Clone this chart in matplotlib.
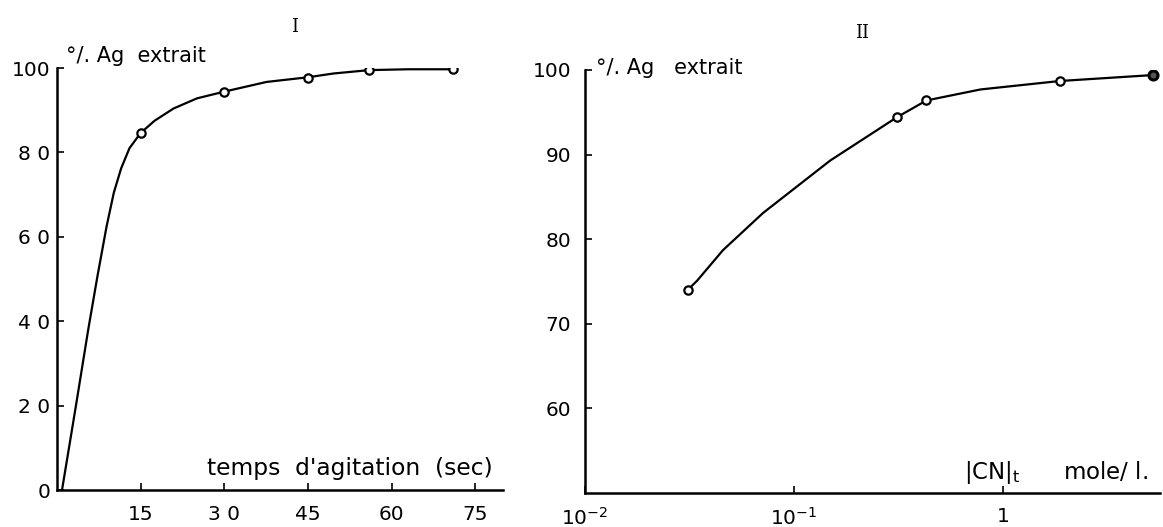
import numpy as np
import matplotlib
matplotlib.use("Agg")
import matplotlib.pyplot as plt

# ---- Panel I data ----
t_pts = [15, 30, 45, 56, 71]
ag_t_pts = [84.6, 94.4, 97.6, 99.5, 99.7]
t_curve = [0.9, 3.4, 5.6, 7.3, 8.9, 10.2, 11.5, 13.0, 15, 17.5, 20.9, 25.1, 30, 37.6, 45, 49.6, 56, 63, 71]
ag_t_curve = [0, 20, 38, 51, 62.5, 70.5, 76.2, 81.0, 84.6, 87.5, 90.4, 92.8, 94.4, 96.7, 97.8, 98.7, 99.5, 99.7, 99.7]
t_ticks = [15, 30, 45, 60, 75]
t_ticklabels = ["15", "3 0", "45", "60", "75"]
y1_ticks = [0, 20, 40, 60, 80, 100]
y1_ticklabels = ["0", "2 0", "4 0", "6 0", "8 0", "100"]

# ---- Panel II data ----
cn_pts = [0.031, 0.31, 0.43, 1.87, 5.2]
ag_cn_pts = [74.0, 94.4, 96.4, 98.7, 99.4]
cn_curve = [0.031, 0.0344, 0.0457, 0.0711, 0.149, 0.31, 0.43, 0.78, 1.87, 5.2]
ag_cn_curve = [74.0, 75.1, 78.7, 83.1, 89.3, 94.4, 96.4, 97.7, 98.7, 99.4]
cn_ticks = [0.01, 0.1, 1]
cn_ticklabels = [r"$10^{-2}$", r"$10^{-1}$", "1"]
y2_ticks = [60, 70, 80, 90, 100]
y2_ticklabels = ["60", "70", "80", "90", "100"]

W, H = 1163, 527
fig = plt.figure(figsize=(W / 100, H / 100), dpi=100)
plt.rcParams['font.family'] = ['DejaVu Sans']
plt.rcParams['mathtext.fontset'] = 'dejavusans'

def frac(x0, y0, x1, y1):
    return [x0 / W, 1 - y1 / H, (x1 - x0) / W, (y1 - y0) / H]

ax1 = fig.add_axes(frac(57, 68, 503, 490))
ax2 = fig.add_axes(frac(585, 70, 1160, 493))

lw = 1.6
for ax in (ax1, ax2):
    for s in ("top", "right"):
        ax.spines[s].set_visible(False)
    for s in ("left", "bottom"):
        ax.spines[s].set_linewidth(1.8)
    ax.tick_params(direction="in", length=5, width=1.2, labelsize=14.5)
    ax.minorticks_off()

# Panel I
ax1.plot(t_curve, ag_t_curve, color="black", lw=lw, zorder=2)
ax1.plot(t_pts, ag_t_pts, linestyle="none", marker="o", ms=6, mfc="white",
         mec="black", mew=1.6, zorder=3)
ax1.set_xlim(0, 80)
ax1.set_ylim(0, 100)
ax1.set_xticks(t_ticks)
ax1.set_xticklabels(t_ticklabels)
ax1.set_yticks(y1_ticks)
ax1.set_yticklabels(y1_ticklabels)
ax1.tick_params(axis="x", pad=11)
ax1.tick_params(axis="y", pad=5)
fig.text(66 / W, 1 - 56 / H, "°/. Ag  extrait", fontsize=15, va="center", ha="left")
fig.text(207 / W, 1 - 469 / H, "temps  d'agitation  (sec)", fontsize=16.8, va="center", ha="left")
fig.text(295 / W, 1 - 27 / H, "I", fontsize=13, family="DejaVu Serif", va="center", ha="center")

# Panel II
ax2.set_xscale("log")
ax2.plot(cn_curve, ag_cn_curve, color="black", lw=lw, zorder=2)
ax2.plot(cn_pts[:-1], ag_cn_pts[:-1], linestyle="none", marker="o", ms=6, mfc="white",
         mec="black", mew=1.6, zorder=3)
ax2.plot(cn_pts[-1:], ag_cn_pts[-1:], linestyle="none", marker="o", ms=6.5, mfc="#555555",
         mec="black", mew=2.2, zorder=3)
ax2.set_xlim(0.01, 10 ** 0.751)
ax2.set_ylim(50, 100)
ax2.set_xticks(cn_ticks)
ax2.set_xticklabels(cn_ticklabels)
ax2.minorticks_off()
ax2.set_yticks(y2_ticks)
ax2.set_yticklabels(y2_ticklabels)
ax2.tick_params(axis="x", pad=10)
ax2.tick_params(axis="y", pad=10)
fig.text(596 / W, 1 - 68 / H, "°/. Ag   extrait", fontsize=15, va="center", ha="left")
fig.text(964 / W, 1 - 472 / H, r"|CN|$_{\mathrm{t}}$      mole/ l.", fontsize=16.5, va="center", ha="left")
fig.text(862 / W, 1 - 33 / H, "II", fontsize=13, family="DejaVu Serif", va="center", ha="center")

fig.savefig("out.png", dpi=100, facecolor="white")
